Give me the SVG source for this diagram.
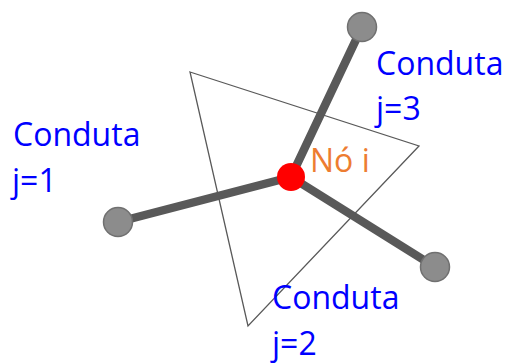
<svg xmlns="http://www.w3.org/2000/svg" width="509" height="363" viewBox="0 0 509 363">
<style>
.lbl{font-family:"Open Sans","Liberation Sans",sans-serif;font-size:32px;fill:#0000FF}
.pipe{stroke:#595959;stroke-width:8.5;stroke-linecap:round}
.end{fill:#8C8C8C;stroke:#707070;stroke-width:1.5}
</style>
<rect width="509" height="363" fill="#FFFFFF"/>
<polygon id="triangle" points="190,72 419,146 248,326" fill="none" stroke="#595959" stroke-width="1.3"/>
<g id="connectors">
<line class="pipe" x1="291" y1="177" x2="362" y2="27"/>
<line class="pipe" x1="291" y1="177" x2="118" y2="222"/>
<line class="pipe" x1="291" y1="177" x2="435" y2="267"/>
</g>
<g id="node-j3"><circle class="end" cx="362" cy="27" r="14.5"/></g>
<g id="node-j1"><circle class="end" cx="118" cy="222" r="14.5"/></g>
<g id="node-j2"><circle class="end" cx="435" cy="267" r="14.5"/></g>
<g id="node-i"><circle cx="291" cy="177" r="14" fill="#FF0000"/></g>
<g id="labels">
<text class="lbl" x="376" y="75">Conduta</text>
<text class="lbl" x="376" y="120">j=3</text>
<text class="lbl" x="13" y="146">Conduta</text>
<text class="lbl" x="12" y="192">j=1</text>
<text class="lbl" x="272" y="309">Conduta</text>
<text class="lbl" x="272" y="355">j=2</text>
<text x="310" y="172" style="font-family:'Open Sans','Liberation Sans',sans-serif;font-size:32px;fill:#ED7D31">Nó i</text>
</g>
</svg>
